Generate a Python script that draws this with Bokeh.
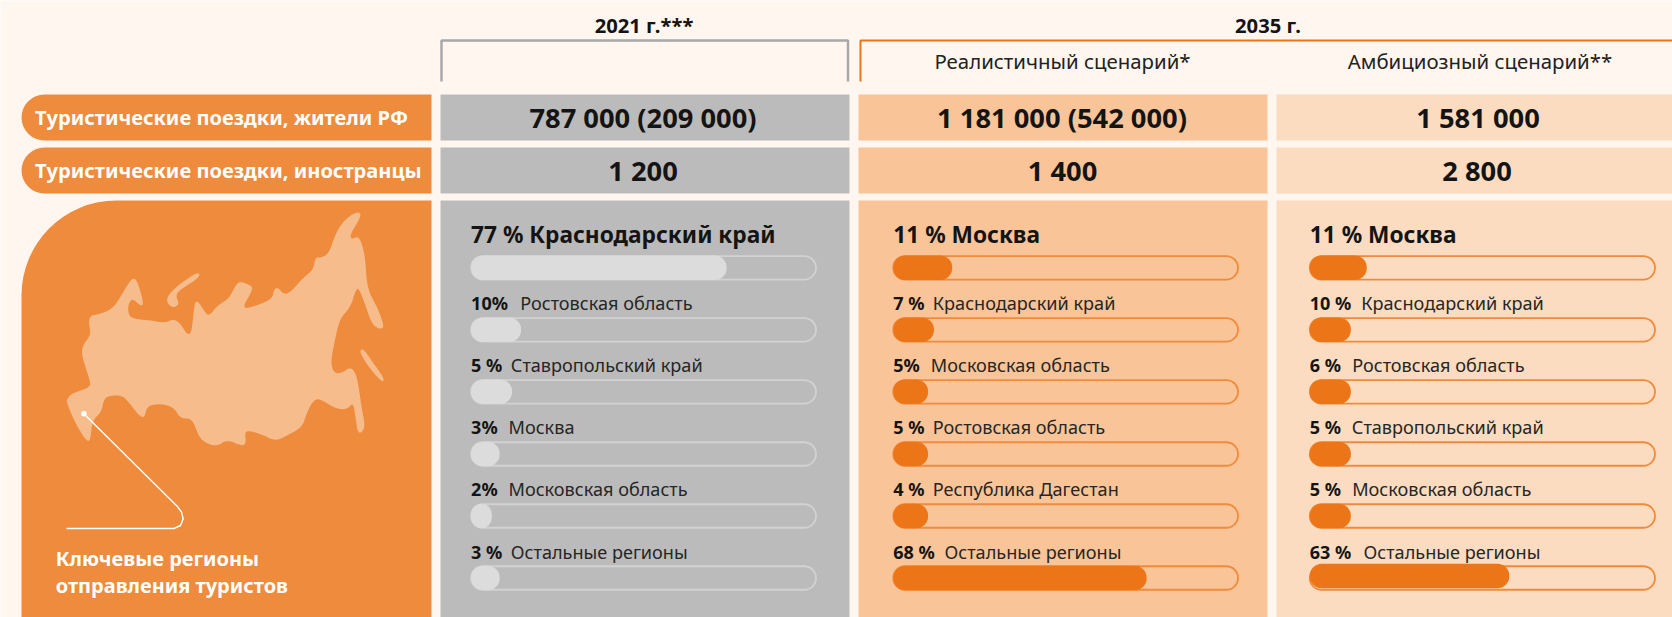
from bokeh.plotting import figure
from bokeh.embed import file_html
from bokeh.resources import INLINE
from bokeh.core.properties import value
from bokeh.models import Range1d

# ---- content ----
header_years = ["2021 г.***", "2035 г."]
scenarios = ["Реалистичный сценарий*", "Амбициозный сценарий**"]
row_labels = ["Туристические поездки, жители РФ", "Туристические поездки, иностранцы"]
trips_residents = ["787 000 (209 000)", "1 181 000 (542 000)", "1 581 000"]
trips_foreign = ["1 200", "1 400", "2 800"]
panel_title = ["Ключевые регионы", "отправления туристов"]

titles = ["77 % Краснодарский край", "11 % Москва", "11 % Москва"]

pct_2021 = ["10%", "5 %", "3%", "2%", "3 %"]
reg_2021 = ["Ростовская область", "Ставропольский край", "Москва", "Московская область", "Остальные регионы"]
pct_real = ["7 %", "5%", "5 %", "4 %", "68 %"]
reg_real = ["Краснодарский край", "Московская область", "Ростовская область", "Республика Дагестан", "Остальные регионы"]
pct_amb = ["10 %", "6 %", "5 %", "5 %", "63 %"]
reg_amb = ["Краснодарский край", "Ростовская область", "Ставропольский край", "Московская область", "Остальные регионы"]

# drawn length of each bar, share of its track in %
fill_2021 = [74.1, 14.5, 11.9, 8.3, 6.0, 8.3]
fill_real = [17.1, 11.8, 10.1, 10.1, 10.1, 73.5]
fill_amb = [16.5, 11.9, 11.9, 11.9, 11.9, 57.8]

# country outline
russia = [(200,625),(215,608),(270,590),(268,570),(255,530),(243,490),(248,462),(272,432),(264,395),(270,375),(300,370),(335,355),(360,320),(385,275),(402,260),(415,285),(430,340),(420,347),(395,322),(382,345),(385,375),(400,385),(450,390),(495,397),(520,385),(540,400),(560,432),(572,428),(578,380),(583,332),(595,335),(610,360),(625,378),(650,345),(685,325),(705,285),(718,272),(752,285),(757,298),(722,357),(770,345),(815,325),(820,298),(832,290),(850,312),(870,305),(910,260),(938,238),(945,200),(960,202),(985,190),(1005,130),(1030,90),(1065,65),(1082,68),(1075,90),(1050,130),(1052,147),(1072,137),(1085,160),(1095,210),(1098,270),(1108,310),(1130,350),(1147,395),(1149,414),(1130,414),(1112,395),(1095,345),(1075,292),(1065,300),(1050,350),(1018,385),(1005,440),(993,500),(993,530),(1005,549),(1025,547),(1048,530),(1065,545),(1075,590),(1083,650),(1093,700),(1088,722),(1072,730),(1065,680),(1058,635),(1040,657),(1005,655),(955,622),(935,635),(918,670),(905,710),(860,735),(825,752),(780,730),(740,720),(733,730),(737,757),(725,767),(680,747),(650,767),(620,760),(595,740),(575,683),(540,685),(520,650),(480,640),(440,645),(432,682),(415,675),(385,635),(365,615),(330,615),(310,625),(303,665),(275,690),(270,750),(258,752),(225,700),(198,635)]
novaya = [(498,322),(520,295),(560,265),(592,245),(599,255),(580,272),(540,297),(525,315),(537,340),(520,352),(503,342)]
sakhalin = [(1080,478),(1090,476),(1120,520),(1149,560),(1149,575),(1135,565),(1105,530),(1080,490)]
leader = [(250,670),(530,947),(543,965),(548,985),(540,1005),(520,1014),(198,1014)]

# ---- colours ----
BG = "#fff6f0"; PILL = "#ee8b3d"; GRAY = "#bbbbbb"; PEACH = "#f9c498"; LIGHT = "#fbdcc0"
ORANGE = "#ec7518"; INK = "#141414"; MAPC = "#f6bc8b"

W, H = 1672, 617
p = figure(width=W, height=H, x_range=Range1d(0, W), y_range=Range1d(H, 0),
           toolbar_location=None, output_backend="svg", min_border=0,
           background_fill_color=BG, border_fill_color=BG, outline_line_color=None)
p.axis.visible = False
p.grid.visible = False

FONT = value("Noto Sans")

def label(x, y, s, size, color=INK, bold=False, align="left"):
    p.text([x], [y], text=[s], text_font=FONT, text_font_size=f"{size}px", text_color=color,
           text_font_style="bold" if bold else "normal", text_align=align, text_baseline="middle")

def smooth(pts, n=2):
    for _ in range(n):
        out = []
        for i in range(len(pts)):
            a, b = pts[i], pts[(i + 1) % len(pts)]
            out.append((0.75 * a[0] + 0.25 * b[0], 0.75 * a[1] + 0.25 * b[1]))
            out.append((0.25 * a[0] + 0.75 * b[0], 0.25 * a[1] + 0.75 * b[1]))
        pts = out
    return pts

def zoomed(pts):
    return [x / 3 for x, _ in pts], [190 + y / 3 for _, y in pts]

# column geometry
col_left = [440, 858, 1276]
col_right = [849, 1267, 1672]
col_fill = [GRAY, PEACH, LIGHT]
center_residents = [642.5, 1061.5, 1477.5]
center_foreign = [642.5, 1062, 1476.5]

# table cells
for y0, y1, vals, centers in [(94, 140, trips_residents, center_residents), (147, 193, trips_foreign, center_foreign)]:
    p.quad(left=col_left, right=col_right, top=[y0] * 3, bottom=[y1] * 3, fill_color=col_fill, line_color=None)
    for c, v in zip(centers, vals):
        label(c, (y0 + y1) / 2 - 0.5, v, 27.3, bold=True, align="center")
p.quad(left=col_left, right=col_right, top=[200] * 3, bottom=[617] * 3, fill_color=col_fill, line_color=None)

# row pills
for (y0, y1), s in zip([(94, 140), (147, 193)], row_labels):
    p.hbar(y=[(y0 + y1) / 2], left=[21], right=[431], height=y1 - y0, fill_color=PILL, line_color=None,
           border_radius=dict(top_left=23, top_right=0, bottom_right=0, bottom_left=23))
    label(34.5, (y0 + y1) / 2, s, 20.1, color="white", bold=True)

# left panel
p.hbar(y=[408.5], left=[21], right=[431], height=417, fill_color=PILL, line_color=None,
       border_radius=dict(top_left=95, top_right=0, bottom_right=0, bottom_left=0))
for shape in (russia, novaya, sakhalin):
    xs, ys = zoomed(smooth(shape))
    p.patch(xs, ys, fill_color=MAPC, line_color=None)
lx, ly = zoomed(leader)
p.line(lx, ly, line_color="white", line_width=1.5)
p.scatter([lx[0]], [ly[0]], size=5.5, fill_color="white", line_color=None)
label(55.2, 558, panel_title[0], 20, color="white", bold=True)
label(55.2, 585, panel_title[1], 20, color="white", bold=True)

# headers
p.line([441, 441, 847.5, 847.5], [81, 40, 40, 81], line_color="#a8a8a8", line_width=2.5)
p.line([860, 860, 1672], [81, 40, 40], line_color=ORANGE, line_width=2)
label(643.5, 24, header_years[0], 20.2, bold=True, align="center")
label(1267.5, 24, header_years[1], 20.2, bold=True, align="center")
label(1062, 60.5, scenarios[0], 20.4, color="#222222", align="center")
label(1479.5, 60.5, scenarios[1], 20.4, color="#222222", align="center")

# region bars
track_y = [267.3, 329.3, 391.3, 453.5, 515.5, 577.5]
text_y = [302.3, 364, 426.3, 488.3, 551.3]
columns = [
    dict(x0=470.6, x1=815.5, fills=fill_2021, pct=pct_2021, reg=reg_2021, name_x=[519.7, 510.3, 508, 508, 510.3],
         stroke="#d2d2d2", fill="#dcdcdc", bar_y=track_y),
    dict(x0=892.8, x1=1237.5, fills=fill_real, pct=pct_real, reg=reg_real, name_x=[932.3, 930.3, 932.3, 932.3, 944],
         stroke="#f08a3c", fill=ORANGE, bar_y=track_y),
    dict(x0=1309.3, x1=1654.5, fills=fill_amb, pct=pct_amb, reg=reg_amb, name_x=[1360.7, 1351.7, 1351.3, 1351.7, 1363],
         stroke="#f08a3c", fill=ORANGE, bar_y=track_y[:5] + [575.5]),
]
for col, title in zip(columns, titles):
    x0, x1 = col["x0"], col["x1"]
    n = len(track_y)
    p.hbar(y=track_y, left=[x0] * n, right=[x1] * n, height=23.5, fill_color=None,
           line_color=col["stroke"], line_width=1.8, border_radius=12)
    rights = [x0 + f / 100 * (x1 - x0) for f in col["fills"]]
    p.hbar(y=col["bar_y"], left=[x0] * n, right=rights, height=24.5, fill_color=col["fill"],
           line_color=None, border_radius=12)
    label(x0, 234, title, 22.7, bold=True)
    for y, s in zip(text_y, col["pct"]):
        label(x0, y, s, 18, bold=True)
    for y, s, nx in zip(text_y, col["reg"], col["name_x"]):
        label(nx, y, s, 18.1, color="#262626")

html = file_html(p, INLINE)
open("out.html", "w").write(html)
